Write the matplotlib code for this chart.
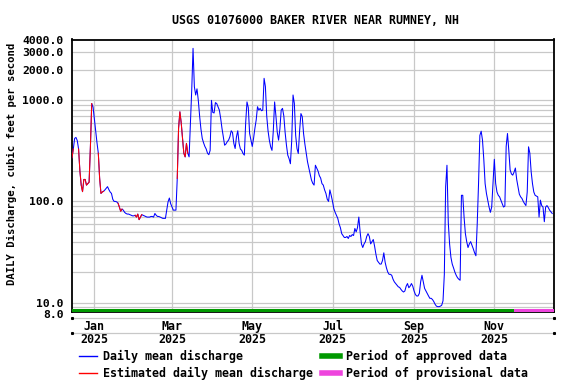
import numpy as np
import pandas as pd
import matplotlib
matplotlib.use("Agg")
import matplotlib.pyplot as plt
import matplotlib.transforms as mtransforms
from matplotlib.lines import Line2D
from matplotlib.ticker import NullFormatter

plt.rcParams["font.family"] = ["DejaVu Sans Mono"]
plt.rcParams["font.weight"] = "bold"

# daily mean discharge, cfs, starting 2024-12-15
start_date = "2024-12-15"
flow = [
    270, 330, 420, 430, 400, 330, 200, 145, 125, 165,
    165, 145, 150, 155, 350, 930, 860, 650, 480, 380,
    300, 170, 120, 124, 126, 130, 135, 140, 131, 124,
    120, 105, 100, 100, 99, 96, 88, 80, 84, 82,
    78, 76, 75, 75, 74, 73, 72, 72, 73, 70,
    75, 66, 70, 74, 73, 72, 71, 70, 70, 70,
    71, 71, 70, 76, 73, 71, 71, 70, 69, 68,
    68, 68, 82, 99, 108, 95, 88, 82, 82, 82,
    169, 530, 770, 600, 420, 300, 276, 375, 300, 276,
    591, 1265, 3270, 1366, 1130, 1300, 1000, 700, 520, 420,
    380, 350, 330, 300, 290, 320, 1000, 760, 750, 950,
    930, 865, 800, 663, 528, 436, 360, 370, 390, 404,
    436, 500, 480, 375, 334, 436, 500, 375, 330, 320,
    298, 287, 600, 965, 850, 470, 404, 350, 420, 528,
    640, 865, 800, 833, 790, 800, 1652, 1366, 700, 500,
    404, 347, 320, 500, 965, 700, 485, 404, 520, 800,
    833, 700, 480, 360, 287, 265, 236, 400, 1130, 934,
    450, 334, 298, 500, 740, 690, 470, 370, 300, 247,
    214, 187, 163, 151, 145, 228, 214, 200, 180, 170,
    150, 145, 130, 120, 105, 100, 130, 115, 100, 85,
    78, 73, 68, 60, 55, 48, 46, 44, 44, 45,
    43, 46, 45, 47, 46, 54, 50, 55, 70, 50,
    38, 35, 38, 40, 45, 48, 45, 38, 40, 42,
    36, 30, 26, 25, 24, 24, 26, 31, 25, 22,
    20, 19, 19, 18.6, 17, 16, 15.4, 14.8, 14.3, 14.1,
    13.5, 13, 12.7, 13, 14.5, 15.4, 14, 14.5, 15.4, 14.5,
    13, 12, 11.6, 11.6, 12.3, 16, 18.6, 16, 13.8, 13,
    12.3, 11.6, 11, 11, 10.7, 10.2, 9.6, 9.2, 9.1, 9.1,
    9.2, 9.4, 10.4, 19, 140, 228, 62, 38, 28, 24,
    22, 20, 18.6, 17.6, 17, 16.6, 115, 115, 70, 48,
    40, 35, 38, 40, 37, 34, 31, 29, 60, 150,
    450, 495, 404, 260, 150, 120, 103, 88, 78, 88,
    150, 261, 151, 124, 115, 111, 103, 95, 88, 90,
    350, 470, 320, 205, 187, 182, 195, 214, 165, 140,
    118, 111, 107, 100, 95, 91, 124, 347, 300, 196,
    150, 124, 115, 113, 111, 70, 103, 91, 88, 63,
    88, 91, 87, 82, 79, 76,
]

# estimated periods (red)
est_periods = [
    ("2024-12-15", "2024-12-16"),
    ("2024-12-20", "2024-12-30"),
    ("2025-01-04", "2025-01-08"),
    ("2025-01-19", "2025-01-22"),
    ("2025-02-01", "2025-02-06"),
    ("2025-03-05", "2025-03-13"),
]

approved = ("2024-12-15", "2025-11-16")
provisional = ("2025-11-16", "2025-12-17")

month_ticks = ["2025-01-01", "2025-03-01", "2025-05-01", "2025-07-01", "2025-09-01", "2025-11-01"]
month_labels = ["Jan\n2025", "Mar\n2025", "May\n2025", "Jul\n2025", "Sep\n2025", "Nov\n2025"]
ytick_vals = [8, 10, 100, 1000, 2000, 3000, 4000]
ygrid_minor = [9, 20, 30, 40, 50, 60, 70, 80, 90, 200, 300, 400, 500, 600, 700, 800, 900]

dates = pd.date_range(start_date, periods=len(flow), freq="D")
s = pd.Series(flow, index=dates)

fig = plt.figure(figsize=(5.76, 3.84), dpi=100)
ax = fig.add_axes([72 / 576, 1 - 312.3 / 384, (554.3 - 72) / 576, (312.3 - 39.5) / 384])

ax.plot(s.index, s.values, color="#0000ff", lw=0.75, zorder=3)
for a, b in est_periods:
    seg = s.loc[a:b]
    ax.plot(seg.index, seg.values, color="#ff0000", lw=0.75, zorder=4)

ax.set_yscale("log")
ax.set_ylim(8, 4000)
ax.set_xlim(pd.Timestamp("2024-12-15"), pd.Timestamp("2025-12-16 14:00"))

ax.set_yticks(ytick_vals)
ax.set_yticklabels([f"{v:.1f}" for v in ytick_vals], fontsize=8.2)
ax.set_yticks(ygrid_minor, minor=True)
ax.yaxis.set_minor_formatter(NullFormatter())
ax.set_xticks(pd.to_datetime(month_ticks))
ax.set_xticklabels(month_labels, fontsize=8.4)
for lbl in ax.get_xticklabels():
    lbl.set_linespacing(1.0)
ax.tick_params(axis="both", which="both", length=0)
ax.tick_params(axis="y", pad=6)
ax.tick_params(axis="x", pad=5.4)
ax.grid(True, which="both", color="#c8c8c8", lw=0.9, zorder=0)

# nudge the "8.0" label a little lower so it clears "10.0"
lbl8 = ax.get_yticklabels()[0]
lbl8.set_transform(lbl8.get_transform() + mtransforms.ScaledTranslation(0, -2 / 100, fig.dpi_scale_trans))

# approved / provisional bars
ax.axvspan(pd.Timestamp(approved[0]) - pd.Timedelta(days=1), pd.Timestamp(approved[1]),
           ymin=0, ymax=0.013, color="#009900", lw=0, zorder=5)
ax.axvspan(pd.Timestamp(provisional[0]), pd.Timestamp(provisional[1]),
           ymin=0, ymax=0.013, color="#ee44dd", lw=0, zorder=5)

for sp in ax.spines.values():
    sp.set_color("black")
    sp.set_linewidth(1.3)

# gray rules under the axis
for yy in [-0.022, -0.077]:
    ax.plot([0, 1], [yy, yy], transform=ax.transAxes, color="#c8c8c8", lw=0.9, clip_on=False)
    ax.plot([0, 1], [yy, yy], transform=ax.transAxes, ls="none", marker="s", ms=1.2,
            color="black", clip_on=False)

fig.text(316 / 576, 1 - 20 / 384, "USGS 01076000 BAKER RIVER NEAR RUMNEY, NH",
         ha="center", va="center", fontsize=8.4, fontweight="bold")
fig.text(12 / 576, 1 - 164 / 384, "DAILY Discharge, cubic feet per second",
         ha="center", va="center", rotation=90, fontsize=7.7, fontweight="bold")

handles = [
    Line2D([], [], color="#0000ff", lw=1),
    Line2D([], [], color="#ff0000", lw=1),
    Line2D([], [], color="#009900", lw=4),
    Line2D([], [], color="#ee44dd", lw=4),
]
labels = ["Daily mean discharge", "Estimated daily mean discharge",
          "Period of approved data", "Period of provisional data"]
fig.legend(handles, labels, ncol=2, loc="upper left",
           bbox_to_anchor=(79 / 576, 1 - 350 / 384), frameon=False,
           prop={"size": 8.4, "weight": "bold"}, handlelength=1.55,
           handletextpad=0.5, columnspacing=0.75, labelspacing=0.35,
           borderpad=0, borderaxespad=0)

fig.savefig("out.png", dpi=100)
